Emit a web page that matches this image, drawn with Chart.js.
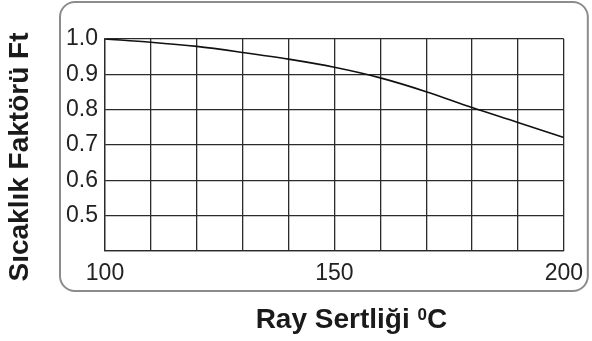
<!DOCTYPE html>
<html>
<head>
<meta charset="utf-8">
<script src="https://cdn.jsdelivr.net/npm/chart.js@4"></script>
<style>
  html, body { margin: 0; padding: 0; background: #fff; }
  #wrap { width: 592px; height: 341px; }
</style>
</head>
<body>
<div id="wrap"><canvas id="ftChart" width="592" height="341"></canvas></div>
<script>
// rail hardness (°C) vs temperature factor Ft
const hardness = [100, 110, 120, 130, 140, 150, 160, 170, 180, 190, 200];
const factor = [1.0, 0.991, 0.979, 0.962, 0.943, 0.920, 0.890, 0.851, 0.806, 0.764, 0.721];
const xLabels = [100, 150, 200];
const yLabels = [0.5, 0.6, 0.7, 0.8, 0.9, 1.0];
const yTitle = 'Sıcaklık Faktörü Ft';
const xTitle = ['Ray Sertliği ', '0', 'C'];

const gridColor = '#2b2b2b';
const fontFamily = 'Liberation Sans, Arial, sans-serif';

// rounded gray frame around the plot + axis titles
const framePlugin = {
  id: 'frame',
  beforeDraw(chart) {
    const ctx = chart.ctx;
    const a = chart.chartArea;
    const x0 = a.left - 45, y0 = a.top - 37;
    const x1 = a.right + 24, y1 = a.bottom + 40;
    ctx.save();
    ctx.strokeStyle = '#8c8c8c';
    ctx.lineWidth = 2;
    ctx.beginPath();
    ctx.roundRect(x0, y0, x1 - x0, y1 - y0, 15);
    ctx.stroke();
    ctx.restore();
  },
  afterDraw(chart) {
    const ctx = chart.ctx;
    const a = chart.chartArea;
    ctx.save();
    ctx.fillStyle = '#1a1a1a';
    ctx.textBaseline = 'middle';
    ctx.textAlign = 'center';

    // y title, rotated
    ctx.font = 'bold 28px ' + fontFamily;
    ctx.save();
    ctx.translate(a.left - 85, (a.top + a.bottom) / 2 + 12);
    ctx.rotate(-Math.PI / 2);
    ctx.fillText(yTitle, 0, 0);
    ctx.restore();

    // x title with superscript 0
    ctx.textAlign = 'left';
    ctx.textBaseline = 'alphabetic';
    const big = 'bold 28px ' + fontFamily;
    const small = 'bold 17px ' + fontFamily;
    ctx.font = big;
    const w1 = ctx.measureText(xTitle[0]).width;
    const w3 = ctx.measureText(xTitle[2]).width;
    ctx.font = small;
    const w2 = ctx.measureText(xTitle[1]).width;
    const total = w1 + w2 + w3;
    let x = (a.left + a.right) / 2 + 17 - total / 2;
    const base = a.bottom + 77;
    ctx.font = big;
    ctx.fillText(xTitle[0], x, base);
    x += w1;
    ctx.font = small;
    ctx.fillText(xTitle[1], x, base - 8);
    x += w2;
    ctx.font = big;
    ctx.fillText(xTitle[2], x, base);
    ctx.restore();
  }
};

const ctx = document.getElementById('ftChart').getContext('2d');
new Chart(ctx, {
  type: 'line',
  data: {
    datasets: [{
      data: hardness.map((h, i) => ({ x: h, y: factor[i] })),
      borderColor: '#111',
      borderWidth: 1.6,
      pointRadius: 0,
      cubicInterpolationMode: 'monotone',
      fill: false
    }]
  },
  options: {
    responsive: false,
    animation: false,
    layout: { padding: { left: 0, top: 39, right: 28, bottom: 0 } },
    plugins: { legend: { display: false }, tooltip: { enabled: false } },
    scales: {
      x: {
        type: 'linear',
        min: 100,
        max: 200,
        afterFit: s => { s.height = 90; },
        grid: { color: gridColor, lineWidth: 1.3, drawTicks: false },
        border: { color: gridColor, width: 1.3 },
        ticks: {
          stepSize: 10,
          padding: 9,
          maxRotation: 0,
          autoSkip: false,
          color: '#222',
          font: { family: fontFamily, size: 23 },
          callback: v => xLabels.includes(Math.round(v)) ? String(Math.round(v)) : ''
        }
      },
      y: {
        type: 'linear',
        min: 0.4,
        max: 1.0,
        afterFit: s => { s.width = 105; },
        grid: { color: gridColor, lineWidth: 1.3, drawTicks: false },
        border: { color: gridColor, width: 1.3 },
        ticks: {
          stepSize: 0.1,
          padding: 7,
          color: '#222',
          font: { family: fontFamily, size: 23 },
          callback: v => {
            const r = Math.round(v * 10) / 10;
            return yLabels.includes(r) ? r.toFixed(1) : '';
          }
        }
      }
    }
  },
  plugins: [framePlugin]
});
</script>
</body>
</html>
